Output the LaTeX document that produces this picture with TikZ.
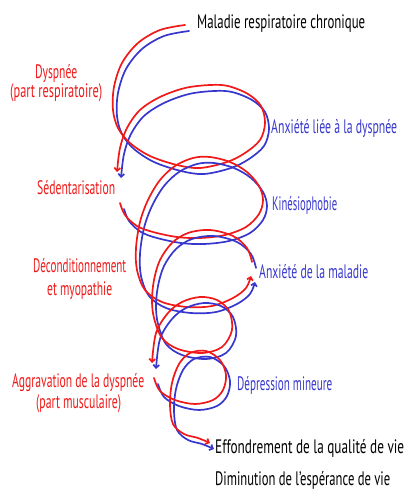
\documentclass[tikz,border=0pt]{standalone}
\usepackage{fontspec}
\setmainfont{PT Sans}
\usetikzlibrary{arrows.meta}
\definecolor{cred}{RGB}{240,25,25}
\definecolor{cblue}{RGB}{55,55,205}
\newcommand{\tw}[2]{\resizebox{#1pt}{\height}{#2}}
\begin{document}
\begin{tikzpicture}[x=1pt,y=-1pt,
  lbl/.style={inner sep=0pt, anchor=base west, font=\fontsize{19.5}{21}\selectfont},
  rlab/.style={lbl, text=cred},
  blab/.style={lbl, text=cblue},
  klab/.style={lbl, text=black},
  tipend/.style={-{Straight Barb[length=3pt,width=6pt]}},
  rline/.style={draw=cred, line width=1.7pt, line cap=round, tipend},
  bline/.style={draw=cblue, line width=1.7pt, line cap=round, tipend, shift={(4,6)}},
  sm/.style={smooth, tension=0.55}]
\useasboundingbox (0,0) rectangle (406,495);

% curve paths
\def\pathA{(185,25) (160,30) (138,43) (122,63) (114,87) (113,110) (118,128) (130,143) (150,156) (177,165) (200,168) (227,162) (245,153) (260,140) (265,123) (261,106) (248,94) (228,86) (210,85) (185,88) (160,97) (140,110) (127,128) (120,148) (117,172)}
\def\pathB{(120,203) (125,215) (137,226) (153,232) (177,237) (200,238) (225,235) (246,227) (259,214) (263,200) (259,186) (247,172) (230,162) (210,157) (193,158) (175,166) (160,180) (148,200) (140,222) (136,248) (137,270) (145,290) (162,302) (187,307) (212,306) (233,298) (246,288) (251,276)}
\def\pathC{(252,262) (247,248) (233,236) (210,230) (188,233) (172,243) (160,260) (154,280) (152,300) (154,318) (162,338) (178,349) (202,353) (222,347) (232,330) (229,311) (217,300) (200,297) (182,302) (168,313) (156,333) (152,363)}
\def\pathD{(154,378) (160,391) (175,400) (195,404) (213,400) (223,390) (226,375) (220,360) (206,351) (190,353) (179,364) (172,383) (170,405) (173,424) (184,434) (198,438) (210,443)}

\draw[bline] plot[sm] coordinates {\pathA};
\draw[rline] plot[sm] coordinates {\pathA};
\draw[bline] plot[sm] coordinates {\pathB};
\draw[rline] plot[sm] coordinates {\pathB};
\draw[bline] plot[sm] coordinates {\pathC};
\draw[rline] plot[sm] coordinates {\pathC};
\draw[bline] plot[sm] coordinates {\pathD};
\draw[rline] plot[sm] coordinates {\pathD};

% labels
\node[klab] (mal) at (197,29) {\tw{168}{Maladie respiratoire chronique}};
\node[rlab] (dys1) at (35,78) {\tw{42}{Dyspnée}};
\node[rlab] (dys2) at (10,97) {\tw{92}{(part respiratoire)}};
\node[blab] (anx1) at (271,133) {\tw{126}{Anxiété liée à la dyspnée}};
\node[rlab] (sed) at (37,194) {\tw{78}{Sédentarisation}};
\node[blab] (kin) at (272,210) {\tw{65}{Kinésiophobie}};
\node[rlab] (dec1) at (33,272) {\tw{93}{Déconditionnement}};
\node[rlab] (dec2) at (47,295) {\tw{65}{et myopathie}};
\node[blab] (anx2) at (259,278) {\tw{109}{Anxiété de la maladie}};
\node[rlab] (agg1) at (12,387) {\tw{132}{Aggravation de la dyspnée}};
\node[rlab] (agg2) at (36,408) {\tw{85}{(part musculaire)}};
\node[blab] (dep) at (237,390) {\tw{95}{Dépression mineure}};
\node[klab] (eff) at (215,453) {\tw{189}{Effondrement de la qualité de vie}};
\node[klab] (dim) at (215,485) {\tw{175}{Diminution de l'espérance de vie}};
\end{tikzpicture}
\end{document}
